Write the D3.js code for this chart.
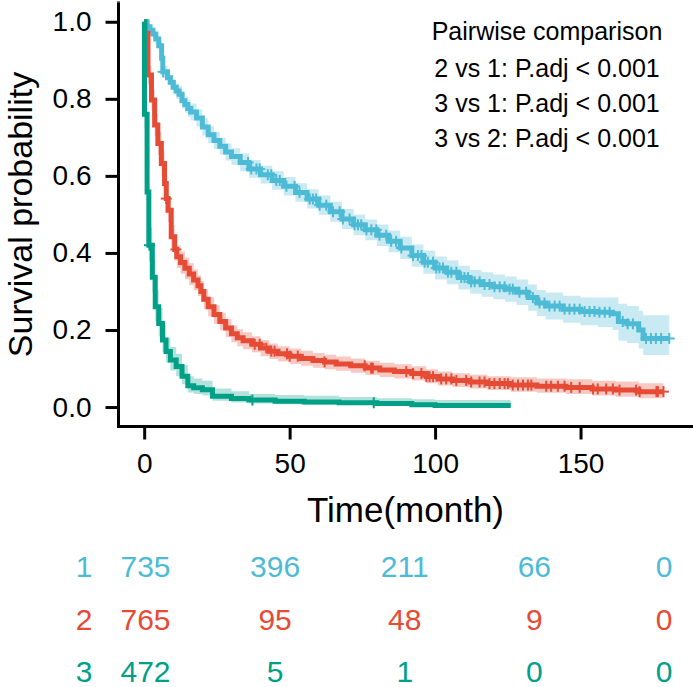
<!DOCTYPE html>
<html>
<head>
<meta charset="utf-8">
<script src="https://cdn.jsdelivr.net/npm/d3@7"></script>
<style>
  body { margin: 0; background: #fff; }
  svg text { font-family: "Liberation Sans", Arial, Helvetica, sans-serif; }
</style>
</head>
<body>
<svg id="chart" width="693" height="687"></svg>
<script>
// group 1 (blue)
const time1  = [0, 1, 2, 3, 4, 5, 6, 6.4, 8, 9, 10, 11, 12, 13, 14, 15, 16, 18, 20, 22, 24, 26, 28, 30, 33, 36, 40, 44, 48, 52, 56, 60, 64, 68, 72, 76, 80, 84, 88, 92, 96, 100, 104, 108, 112, 116, 120, 124, 128, 132, 135, 138, 144, 150, 156, 161, 163, 166, 170, 171.5]
const surv1  = [1, 0.987, 0.978, 0.968, 0.955, 0.938, 0.905, 0.87, 0.855, 0.843, 0.83, 0.82, 0.812, 0.795, 0.785, 0.775, 0.766, 0.75, 0.727, 0.707, 0.692, 0.677, 0.662, 0.65, 0.635, 0.618, 0.603, 0.588, 0.573, 0.557, 0.54, 0.524, 0.507, 0.488, 0.473, 0.46, 0.446, 0.43, 0.413, 0.393, 0.376, 0.361, 0.35, 0.336, 0.325, 0.318, 0.312, 0.306, 0.298, 0.284, 0.27, 0.262, 0.254, 0.248, 0.246, 0.242, 0.222, 0.216, 0.2, 0.178]
const lower1 = [1, 0.979, 0.968, 0.957, 0.943, 0.925, 0.89, 0.854, 0.838, 0.825, 0.811, 0.8, 0.791, 0.774, 0.764, 0.753, 0.744, 0.728, 0.705, 0.685, 0.67, 0.655, 0.64, 0.628, 0.612, 0.595, 0.58, 0.564, 0.549, 0.533, 0.515, 0.499, 0.481, 0.462, 0.446, 0.433, 0.418, 0.402, 0.384, 0.364, 0.346, 0.331, 0.319, 0.305, 0.294, 0.286, 0.28, 0.273, 0.265, 0.25, 0.236, 0.227, 0.219, 0.212, 0.208, 0.2, 0.172, 0.166, 0.152, 0.135]
const upper1 = [1, 0.995, 0.988, 0.979, 0.967, 0.951, 0.92, 0.886, 0.872, 0.861, 0.849, 0.84, 0.833, 0.816, 0.806, 0.797, 0.788, 0.772, 0.749, 0.729, 0.714, 0.699, 0.684, 0.672, 0.658, 0.641, 0.626, 0.612, 0.597, 0.581, 0.565, 0.549, 0.533, 0.514, 0.5, 0.487, 0.474, 0.458, 0.442, 0.422, 0.406, 0.391, 0.381, 0.367, 0.356, 0.35, 0.344, 0.339, 0.331, 0.318, 0.304, 0.297, 0.289, 0.284, 0.284, 0.284, 0.268, 0.262, 0.25, 0.238]
const censor1 = [6.5, 35.7, 36.8, 38.6, 39.7, 42.5, 43.7, 45.4, 46.6, 48.9, 51.7, 53.4, 56.9, 58, 59.1, 60.3, 62.6, 64.9, 67.2, 68.3, 70.6, 72.3, 73.5, 74.6, 76.4, 78.1, 79.8, 80.9, 83.2, 84.9, 86.6, 88.4, 92.4, 94.1, 95.3, 96.4, 97.5, 99.3, 100.4, 101.5, 102.7, 104.4, 105.6, 107.3, 109, 110.1, 111.3, 112.4, 113.6, 115.3, 117, 118.7, 120.4, 122.2, 123.9, 125.6, 126.7, 129, 131.3, 133.6, 135.9, 137.6, 139.3, 141.1, 142.8, 144.5, 146.2, 147.9, 149.7, 151.4, 153.1, 154.8, 156.5, 158.3, 160, 164.5, 166.2, 168, 172.5, 174.2, 175.9, 177.7, 180.5]
const end1 = 180.5

// group 2 (red)
const time2  = [0, 0.3, 1.3, 2.5, 3.6, 4.7, 5.9, 7, 7.6, 8.2, 9.3, 10.5, 11.2, 12.5, 14, 15.5, 17, 18.5, 19.5, 20.5, 22, 24, 26, 28, 30, 32, 34, 37, 40, 43, 46, 50, 54, 58, 62, 66, 71, 76, 81, 86, 92, 97, 101, 106, 112, 118, 126, 135, 145, 154, 162, 170]
const surv2  = [1, 0.97, 0.862, 0.797, 0.732, 0.684, 0.632, 0.58, 0.541, 0.511, 0.442, 0.409, 0.39, 0.375, 0.36, 0.345, 0.33, 0.315, 0.3, 0.28, 0.26, 0.24, 0.222, 0.205, 0.19, 0.18, 0.172, 0.163, 0.153, 0.145, 0.138, 0.132, 0.126, 0.121, 0.117, 0.112, 0.107, 0.101, 0.096, 0.092, 0.087, 0.079, 0.073, 0.069, 0.065, 0.061, 0.057, 0.054, 0.051, 0.047, 0.044, 0.04]
const lower2 = [1, 0.958, 0.838, 0.77, 0.703, 0.654, 0.601, 0.549, 0.51, 0.48, 0.412, 0.38, 0.361, 0.346, 0.332, 0.317, 0.303, 0.288, 0.273, 0.254, 0.235, 0.216, 0.199, 0.182, 0.168, 0.158, 0.15, 0.142, 0.132, 0.125, 0.118, 0.112, 0.107, 0.102, 0.098, 0.094, 0.089, 0.083, 0.078, 0.074, 0.069, 0.062, 0.056, 0.052, 0.048, 0.044, 0.04, 0.037, 0.034, 0.03, 0.027, 0.023]
const upper2 = [1, 0.982, 0.886, 0.824, 0.761, 0.714, 0.663, 0.611, 0.572, 0.542, 0.472, 0.438, 0.419, 0.404, 0.388, 0.373, 0.357, 0.342, 0.327, 0.306, 0.285, 0.264, 0.245, 0.228, 0.212, 0.202, 0.194, 0.184, 0.174, 0.165, 0.158, 0.152, 0.146, 0.14, 0.136, 0.131, 0.126, 0.12, 0.115, 0.111, 0.106, 0.098, 0.092, 0.088, 0.084, 0.08, 0.077, 0.074, 0.072, 0.068, 0.066, 0.062]
const censor2 = [7.6, 10.9, 38, 39.7, 42, 43.7, 44.8, 49.1, 50, 52.8, 62, 75.8, 78, 78.6, 90.1, 92.4, 95.3, 97, 98.1, 99.3, 102.1, 103.8, 105.6, 107.3, 110.7, 112.4, 115.3, 117, 118.7, 120.4, 122.2, 123.9, 125, 126.7, 128.5, 130.2, 131.9, 133.1, 138.2, 139.9, 142.2, 144.5, 146.8, 149.7, 154.3, 155.9, 158.8, 161.1, 163.4, 169.1, 170.3, 176.1, 176.6, 178.5]
const end2 = 178.5

// group 3 (green)
const time3  = [0, 0.1, 1, 1.6, 2.8, 3.8, 5, 6.3, 7.5, 9, 11, 13, 15, 17, 20, 23.5, 30, 36, 45, 55, 67, 80, 92, 100]
const surv3  = [1, 0.76, 0.558, 0.42, 0.337, 0.26, 0.217, 0.174, 0.144, 0.122, 0.105, 0.08, 0.055, 0.05, 0.045, 0.028, 0.022, 0.018, 0.015, 0.013, 0.011, 0.009, 0.006, 0.004]
const lower3 = [1, 0.722, 0.515, 0.378, 0.297, 0.223, 0.183, 0.143, 0.115, 0.095, 0.08, 0.059, 0.038, 0.034, 0.03, 0.016, 0.012, 0.009, 0.007, 0.006, 0.005, 0.004, 0.002, 0.001]
const upper3 = [1, 0.8, 0.604, 0.466, 0.382, 0.303, 0.257, 0.212, 0.18, 0.156, 0.138, 0.109, 0.08, 0.074, 0.068, 0.048, 0.041, 0.034, 0.031, 0.029, 0.026, 0.023, 0.02, 0.018]
const censor3 = [1.8, 37.2, 78.9]
const end3 = 126

const groups = ["1", "2", "3"]
const colors = ["#4DBBD5", "#E64B35", "#00A087"]
const xTicks = [0, 50, 100, 150]
const yTicks = [0, 0.2, 0.4, 0.6, 0.8, 1.0]
const riskTimes = [0, 50, 100, 150, 200]
const risk1 = [735, 396, 211, 66, 0]
const risk2 = [765, 95, 48, 9, 0]
const risk3 = [472, 5, 1, 0, 0]
const pLines = ["Pairwise comparison", "2 vs 1: P.adj < 0.001", "3 vs 1: P.adj < 0.001", "3 vs 2: P.adj < 0.001"]

const series = [
  { time: time1, surv: surv1, lower: lower1, upper: upper1, censor: censor1, end: end1 },
  { time: time2, surv: surv2, lower: lower2, upper: upper2, censor: censor2, end: end2 },
  { time: time3, surv: surv3, lower: lower3, upper: upper3, censor: censor3, end: end3 }
]
const risks = [risk1, risk2, risk3]

const svg = d3.select("#chart")

const x = d3.scaleLinear().domain([-9, 189]).range([118, 694])
const y = d3.scaleLinear().domain([-0.05, 1.05]).range([426.3, 2.5])

// rows: [time, surv, lower, upper], with the last value carried to the end time
function rows(s) {
  const r = s.time.map((t, i) => [t, s.surv[i], s.lower[i], s.upper[i]])
  const last = r[r.length - 1]
  r.push([s.end, last[1], last[2], last[3]])
  return r
}

const area = d3.area()
  .curve(d3.curveStepAfter)
  .x(d => x(d[0]))
  .y0(d => y(d[2]))
  .y1(d => y(d[3]))

const line = d3.line()
  .curve(d3.curveStepAfter)
  .x(d => x(d[0]))
  .y(d => y(d[1]))

const plot = svg.append("g")

series.forEach((s, i) => {
  plot.append("path")
    .attr("d", area(rows(s)))
    .attr("fill", colors[i])
    .attr("fill-opacity", 0.3)
})

series.forEach((s, i) => {
  plot.append("path")
    .attr("d", line(rows(s)))
    .attr("fill", "none")
    .attr("stroke", colors[i])
    .attr("stroke-width", 5)
})

// censor marks "+"
series.forEach((s, i) => {
  const g = plot.append("g").attr("stroke", colors[i]).attr("stroke-width", 2)
  s.censor.forEach(t => {
    const k = Math.max(0, d3.bisectRight(s.time, t) - 1)
    const cx = x(t), cy = y(s.surv[k])
    g.append("line").attr("x1", cx).attr("x2", cx).attr("y1", cy - 5.5).attr("y2", cy + 5.5)
    g.append("line").attr("x1", cx - 5.5).attr("x2", cx + 5.5).attr("y1", cy).attr("y2", cy)
  })
})

// axes
const yAxis = svg.append("g")
  .attr("transform", "translate(118.5,0)")
  .call(d3.axisLeft(y).tickValues(yTicks).tickFormat(d3.format(".1f")).tickSize(13).tickSizeOuter(0).tickPadding(14))
const xAxis = svg.append("g")
  .attr("transform", "translate(0,426.5)")
  .call(d3.axisBottom(x).tickValues(xTicks).tickSize(13).tickSizeOuter(0).tickPadding(14))

;[xAxis, yAxis].forEach(a => {
  a.selectAll("path, line").attr("stroke", "#000").attr("stroke-width", 3)
  a.selectAll("text").attr("font-size", 28).attr("fill", "#000")
    .style("font-family", '"Liberation Sans", Arial, sans-serif')
})
xAxis.select(".domain").attr("d", "M118,0H693")
yAxis.select(".domain").attr("d", "M0,2.5V1.5")
svg.append("line").attr("x1", 118.5).attr("x2", 118.5).attr("y1", 2.5).attr("y2", 428)
  .attr("stroke", "#000").attr("stroke-width", 3)

svg.append("text")
  .attr("transform", "translate(32,214.5) rotate(-90)")
  .attr("text-anchor", "middle")
  .attr("font-size", 34)
  .text("Survival probability")

svg.append("text")
  .attr("x", 405.5)
  .attr("y", 522)
  .attr("text-anchor", "middle")
  .attr("font-size", 35)
  .text("Time(month)")

// pairwise annotation
const pY = [39.5, 76.5, 111.5, 146.5]
svg.append("g").selectAll("text")
  .data(pLines)
  .join("text")
  .attr("x", 547)
  .attr("y", (d, i) => pY[i])
  .attr("text-anchor", "middle")
  .attr("font-size", 25)
  .text(d => d)

// risk table
const xr = d3.scaleLinear().domain([0, 200]).range([145.5, 664])
const rowY = d3.scalePoint().domain(groups).range([577, 682])

groups.forEach((g, i) => {
  svg.append("text")
    .attr("x", 84)
    .attr("y", rowY(g))
    .attr("text-anchor", "middle")
    .attr("font-size", 30)
    .attr("fill", colors[i])
    .text(g)
  svg.append("g").selectAll("text")
    .data(risks[i])
    .join("text")
    .attr("x", (d, j) => xr(riskTimes[j]))
    .attr("y", rowY(g))
    .attr("text-anchor", "middle")
    .attr("font-size", 30)
    .attr("fill", colors[i])
    .text(d => d)
})
</script>
</body>
</html>
